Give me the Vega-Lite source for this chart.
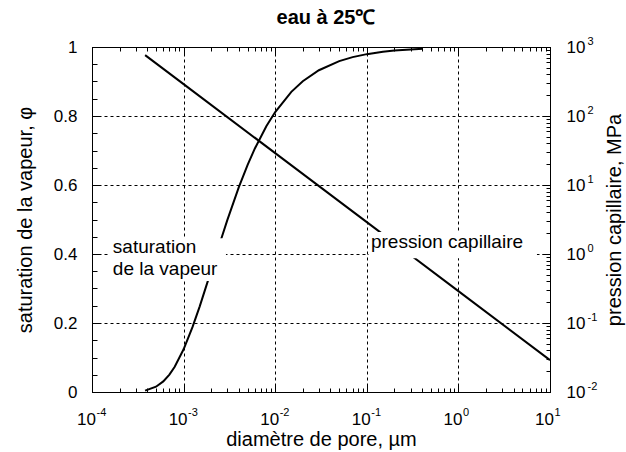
{
  "$schema": "https://vega.github.io/schema/vega-lite/v6.json",
  "width": 458,
  "height": 345,
  "autosize": "none",
  "padding": {"left": 92, "top": 47, "right": 76, "bottom": 60},
  "title": {"text": "eau à 25℃", "fontSize": 20, "fontWeight": "bold", "font": "Liberation Sans", "color": "black", "anchor": "middle", "frame": "group", "baseline": "alphabetic", "offset": -9, "dx": 5},
  "datasets": {
    "sat": [
      {"d": 0.00038, "phi": 0.0041}, {"d": 0.0005, "phi": 0.0153}, {"d": 0.0006, "phi": 0.0307},
      {"d": 0.0007, "phi": 0.0505}, {"d": 0.0008, "phi": 0.0733}, {"d": 0.001, "phi": 0.1237},
      {"d": 0.00125, "phi": 0.1879}, {"d": 0.0015, "phi": 0.2483}, {"d": 0.002, "phi": 0.3517},
      {"d": 0.0025, "phi": 0.4334}, {"d": 0.003, "phi": 0.4982}, {"d": 0.004, "phi": 0.593},
      {"d": 0.005, "phi": 0.6584}, {"d": 0.006, "phi": 0.7059}, {"d": 0.008, "phi": 0.7701},
      {"d": 0.01, "phi": 0.8114}, {"d": 0.015, "phi": 0.8699}, {"d": 0.02, "phi": 0.9008},
      {"d": 0.03, "phi": 0.9327}, {"d": 0.05, "phi": 0.9591}, {"d": 0.07, "phi": 0.9706},
      {"d": 0.1, "phi": 0.9793}, {"d": 0.15, "phi": 0.9862}, {"d": 0.2, "phi": 0.9896},
      {"d": 0.3, "phi": 0.9931}, {"d": 0.41, "phi": 0.9949}
    ],
    "press": [
      {"d": 0.00038, "p": 763}, {"d": 0.001, "p": 290}, {"d": 0.01, "p": 29},
      {"d": 0.1, "p": 2.9}, {"d": 1, "p": 0.29}, {"d": 10, "p": 0.029}
    ],
    "boxes": [
      {"d1": 0.000157, "d2": 0.0029, "y1": 0.322, "y2": 0.446},
      {"d1": 0.1057, "d2": 7.2, "y1": 0.388, "y2": 0.464}
    ],
    "labels": [
      {"d": 0.000169, "y": 0.403, "t": "saturation"},
      {"d": 0.000169, "y": 0.339, "t": "de la vapeur"},
      {"d": 0.111, "y": 0.417, "t": "pression capillaire"}
    ]
  },
  "config": {
    "view": {"stroke": "black", "strokeWidth": 1},
    "font": "Liberation Sans",
    "axis": {
      "domainColor": "black", "tickColor": "black", "labelColor": "black", "titleColor": "black",
      "labelFont": "Liberation Sans", "titleFont": "Liberation Sans", "titleFontWeight": "normal",
      "labelFontSize": 17, "titleFontSize": 20,
      "labelFlush": false, "labelOverlap": false, "labelBound": false,
      "gridColor": "black", "gridDash": [3, 3], "gridOpacity": 1, "gridWidth": 1,
      "tickWidth": 1, "domainWidth": 1
    }
  },
  "layer": [
    {
      "data": {"name": "sat"},
      "mark": {"type": "line", "color": "black", "strokeWidth": 2},
      "encoding": {
        "x": {"field": "d", "type": "quantitative", "scale": {"type": "log", "domain": [0.0001, 10]},
              "axis": {"orient": "bottom", "values": [0.0001, 0.001, 0.01, 0.1, 1, 10], "labelExpr": "'10'", "labelOffset": -6, "labelBaseline": "top", "tickSize": -8, "labelPadding": 27, "grid": true, "title": "diamètre de pore, µm", "titlePadding": 2}},
        "y": {"field": "phi", "type": "quantitative", "scale": {"domain": [0, 1]},
              "axis": {"orient": "left", "values": [0, 0.2, 0.4, 0.6, 0.8, 1], "format": "~g", "tickSize": -8, "labelPadding": 23, "grid": true, "title": "saturation de la vapeur, φ", "titlePadding": 18}}
      }
    },
    {
      "data": {"name": "press"},
      "mark": {"type": "line", "color": "black", "strokeWidth": 2},
      "encoding": {
        "x": {"field": "d", "type": "quantitative", "scale": {"type": "log", "domain": [0.0001, 10]},
              "axis": {"orient": "top", "values": [0.0001, 0.001, 0.01, 0.1, 1, 10], "labels": false, "tickSize": -8, "grid": false, "title": null}},
        "y": {"field": "p", "type": "quantitative", "scale": {"type": "log", "domain": [0.01, 1000]},
              "axis": {"orient": "right", "values": [0.01, 0.1, 1, 10, 100, 1000], "labelExpr": "'10'", "tickSize": -8, "labelPadding": 24, "grid": false, "title": "pression capillaire, MPa", "titleAngle": 270, "titleBaseline": "top", "titlePadding": 20}}
      }
    },
    {
      "data": {"name": "sat"},
      "mark": {"type": "line", "opacity": 0},
      "encoding": {
        "x": {"field": "d", "type": "quantitative", "scale": {"type": "log", "domain": [0.0001, 10]},
              "axis": {"orient": "bottom", "values": [0.0001, 0.001, 0.01, 0.1, 1, 10], "labelExpr": "round(log(datum.value)/LN10)", "labelFontSize": 11, "labelAlign": "left", "labelBaseline": "top", "labelOffset": 4, "labelPadding": 14, "ticks": false, "domain": false, "grid": false, "title": null}},
        "y": {"field": "phi", "type": "quantitative", "scale": {"domain": [0, 1]},
              "axis": {"orient": "left", "values": [0.05, 0.1, 0.15, 0.25, 0.3, 0.35, 0.45, 0.5, 0.55, 0.65, 0.7, 0.75, 0.85, 0.9, 0.95], "labels": false, "tickSize": -5, "grid": false, "domain": false, "title": null}}
      }
    },
    {
      "data": {"name": "press"},
      "mark": {"type": "line", "opacity": 0},
      "encoding": {
        "x": {"field": "d", "type": "quantitative", "scale": {"type": "log", "domain": [0.0001, 10]},
              "axis": {"orient": "bottom", "values": [0.0002, 0.0003, 0.0004, 0.0005, 0.0006, 0.0007, 0.0008, 0.0009, 0.002, 0.003, 0.004, 0.005, 0.006, 0.007, 0.008, 0.009, 0.02, 0.03, 0.04, 0.05, 0.06, 0.07, 0.08, 0.09, 0.2, 0.3, 0.4, 0.5, 0.6, 0.7, 0.8, 0.9, 2, 3, 4, 5, 6, 7, 8, 9], "labels": false, "tickSize": -4, "grid": false, "domain": false, "title": null}},
        "y": {"field": "p", "type": "quantitative", "scale": {"type": "log", "domain": [0.01, 1000]},
              "axis": {"orient": "right", "values": [0.01, 0.1, 1, 10, 100, 1000], "labelExpr": "round(log(datum.value)/LN10)", "labelFontSize": 11, "labelAlign": "left", "labelOffset": -6, "labelPadding": 37, "ticks": false, "domain": false, "grid": false, "title": null}}
      }
    },
    {
      "data": {"name": "press"},
      "mark": {"type": "line", "opacity": 0},
      "encoding": {
        "x": {"field": "d", "type": "quantitative", "scale": {"type": "log", "domain": [0.0001, 10]},
              "axis": {"orient": "top", "values": [0.0002, 0.0003, 0.0004, 0.0005, 0.0006, 0.0007, 0.0008, 0.0009, 0.002, 0.003, 0.004, 0.005, 0.006, 0.007, 0.008, 0.009, 0.02, 0.03, 0.04, 0.05, 0.06, 0.07, 0.08, 0.09, 0.2, 0.3, 0.4, 0.5, 0.6, 0.7, 0.8, 0.9, 2, 3, 4, 5, 6, 7, 8, 9], "labels": false, "tickSize": -4, "grid": false, "domain": false, "title": null}},
        "y": {"field": "p", "type": "quantitative", "scale": {"type": "log", "domain": [0.01, 1000]},
              "axis": {"orient": "right", "values": [0.02, 0.03, 0.04, 0.05, 0.06, 0.07, 0.08, 0.09, 0.2, 0.3, 0.4, 0.5, 0.6, 0.7, 0.8, 0.9, 2, 3, 4, 5, 6, 7, 8, 9, 20, 30, 40, 50, 60, 70, 80, 90, 200, 300, 400, 500, 600, 700, 800, 900], "labels": false, "tickSize": -4, "grid": false, "domain": false, "title": null}}
      }
    },
    {
      "data": {"name": "boxes"},
      "mark": {"type": "rect", "color": "white", "opacity": 1},
      "encoding": {
        "x": {"field": "d1", "type": "quantitative", "scale": {"type": "log", "domain": [0.0001, 10]}, "axis": null},
        "x2": {"field": "d2"},
        "y": {"field": "y1", "type": "quantitative", "scale": {"domain": [0, 1]}, "axis": null},
        "y2": {"field": "y2"}
      }
    },
    {
      "data": {"name": "labels"},
      "mark": {"type": "text", "align": "left", "baseline": "alphabetic", "fontSize": 19, "font": "Liberation Sans", "color": "black"},
      "encoding": {
        "x": {"field": "d", "type": "quantitative", "scale": {"type": "log", "domain": [0.0001, 10]}, "axis": null},
        "y": {"field": "y", "type": "quantitative", "scale": {"domain": [0, 1]}, "axis": null},
        "text": {"field": "t"}
      }
    }
  ],
  "resolve": {"scale": {"y": "independent"}, "axis": {"x": "independent", "y": "independent"}}
}
